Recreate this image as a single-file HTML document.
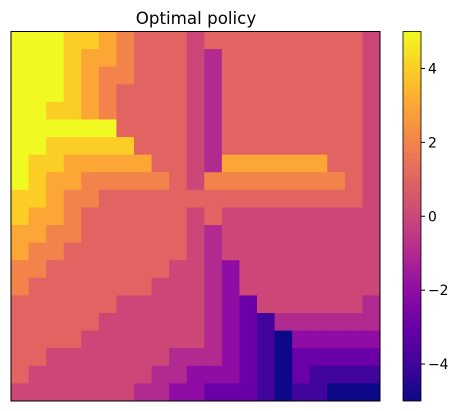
<!DOCTYPE html>
<html><head><meta charset="utf-8"><style>
body{margin:0;background:#fff;}
svg{display:block;font-family:"DejaVu Sans","Liberation Sans",sans-serif;}
</style></head><body>
<svg id="c" width="462" height="411" viewBox="0 0 462 411">
<defs>
<linearGradient id="plasma" x1="0" y1="1" x2="0" y2="0">
<stop offset="0" stop-color="#0d0887"/><stop offset="0.1" stop-color="#41049d"/><stop offset="0.2" stop-color="#6a00a8"/><stop offset="0.3" stop-color="#8f0da4"/><stop offset="0.4" stop-color="#b12a90"/><stop offset="0.5" stop-color="#cc4778"/><stop offset="0.6" stop-color="#e16462"/><stop offset="0.7" stop-color="#f2844b"/><stop offset="0.8" stop-color="#fca636"/><stop offset="0.9" stop-color="#fcce25"/><stop offset="1" stop-color="#f0f921"/>
</linearGradient>
</defs>
<text x="196" y="24" text-anchor="middle" font-size="16.7" fill="#000">Optimal policy</text>
<g id="cells"></g>
<rect x="11" y="31.5" width="369" height="369.5" fill="none" stroke="#000" stroke-width="1"/>
<rect x="403" y="31.5" width="18" height="369.5" fill="url(#plasma)" stroke="#000" stroke-width="0.8"/>
<g id="cbticks"></g>
</svg>
<script>
const gridValues = [
[5,5,5,4,4,3,2,1,1,1,0,1,1,1,1,1,1,1,1,1,0],
[5,5,5,4,3,3,2,1,1,1,0,-1,1,1,1,1,1,1,1,1,0],
[5,5,5,4,3,2,2,1,1,1,0,-1,1,1,1,1,1,1,1,1,0],
[5,5,5,4,3,2,1,1,1,1,0,-1,1,1,1,1,1,1,1,1,0],
[5,5,4,4,3,2,1,1,1,1,0,-1,1,1,1,1,1,1,1,1,0],
[5,5,5,5,5,5,1,1,1,1,0,-1,1,1,1,1,1,1,1,1,0],
[5,5,4,4,4,4,4,1,1,1,0,-1,1,1,1,1,1,1,1,1,0],
[5,4,4,3,3,3,3,3,1,1,0,-1,3,3,3,3,3,3,1,1,0],
[5,4,3,3,2,2,2,2,2,1,0,2,2,2,2,2,2,2,2,1,0],
[4,4,3,2,2,1,1,1,1,1,1,1,1,1,1,1,1,1,1,1,0],
[4,3,3,2,1,1,1,1,1,1,0,1,0,0,0,0,0,0,0,0,0],
[3,3,2,2,1,1,1,1,1,1,0,-1,0,0,0,0,0,0,0,0,0],
[3,2,2,1,1,1,1,1,1,1,0,-1,0,0,0,0,0,0,0,0,0],
[2,2,1,1,1,1,1,1,1,0,0,-1,-2,0,0,0,0,0,0,0,0],
[2,1,1,1,1,1,1,1,0,0,0,-1,-2,0,0,0,0,0,0,0,0],
[1,1,1,1,1,1,0,0,0,0,0,-1,-2,-3,0,0,0,0,0,0,-1],
[1,1,1,1,1,0,0,0,0,0,0,-1,-2,-3,-4,-1,-1,-1,-1,-1,-1],
[1,1,1,1,0,0,0,0,0,0,0,-1,-2,-3,-4,-5,-2,-2,-2,-2,-2],
[1,1,0,0,0,0,0,0,0,-1,-1,-1,-2,-3,-4,-5,-3,-3,-3,-3,-3],
[1,0,0,0,0,0,0,0,-1,-1,-2,-2,-2,-3,-4,-5,-3,-4,-4,-4,-4],
[0,0,0,0,0,0,0,-1,-1,-2,-2,-3,-3,-3,-4,-5,-4,-4,-5,-5,-5]
];
const tickValues = [4,2,0,-2,-4];
const tickLabels = ["4","2","0","\u22122","\u22124"];
const vmin = -5, vmax = 5;
const plasma = ["#0d0887","#41049d","#6a00a8","#8f0da4","#b12a90","#cc4778","#e16462","#f2844b","#fca636","#fcce25","#f0f921"];
const X0=11, Y0=31.5, W=369, H=369.5;
const nR = gridValues.length, nC = gridValues[0].length;
const xs = c => X0 + c*W/nC;
const ys = r => Y0 + r*H/nR;
const color = v => plasma[Math.round((v-vmin)/(vmax-vmin)*10)];
const NS="http://www.w3.org/2000/svg";
const g=document.getElementById('cells');
gridValues.forEach((row,r)=>row.forEach((v,c)=>{
  const el=document.createElementNS(NS,'rect');
  el.setAttribute('x',xs(c)); el.setAttribute('y',ys(r));
  el.setAttribute('width',W/nC+0.5); el.setAttribute('height',H/nR+0.5);
  el.setAttribute('fill',color(v));
  
  
  g.appendChild(el);
}));
const cy = v => Y0 + (vmax-v)/(vmax-vmin)*H;
const tg=document.getElementById('cbticks');
tickValues.forEach((v,i)=>{
  const y=cy(v);
  const ln=document.createElementNS(NS,'line');
  ln.setAttribute('x1',421); ln.setAttribute('x2',425); ln.setAttribute('y1',y); ln.setAttribute('y2',y);
  ln.setAttribute('stroke','#000');
  
  
  tg.appendChild(ln);
  const t=document.createElementNS(NS,'text');
  t.setAttribute('x',428); t.setAttribute('y',y+5);
  t.setAttribute('font-size','13.9');
  t.textContent=tickLabels[i];
  
  
  tg.appendChild(t);
});
</script>
</body></html>
